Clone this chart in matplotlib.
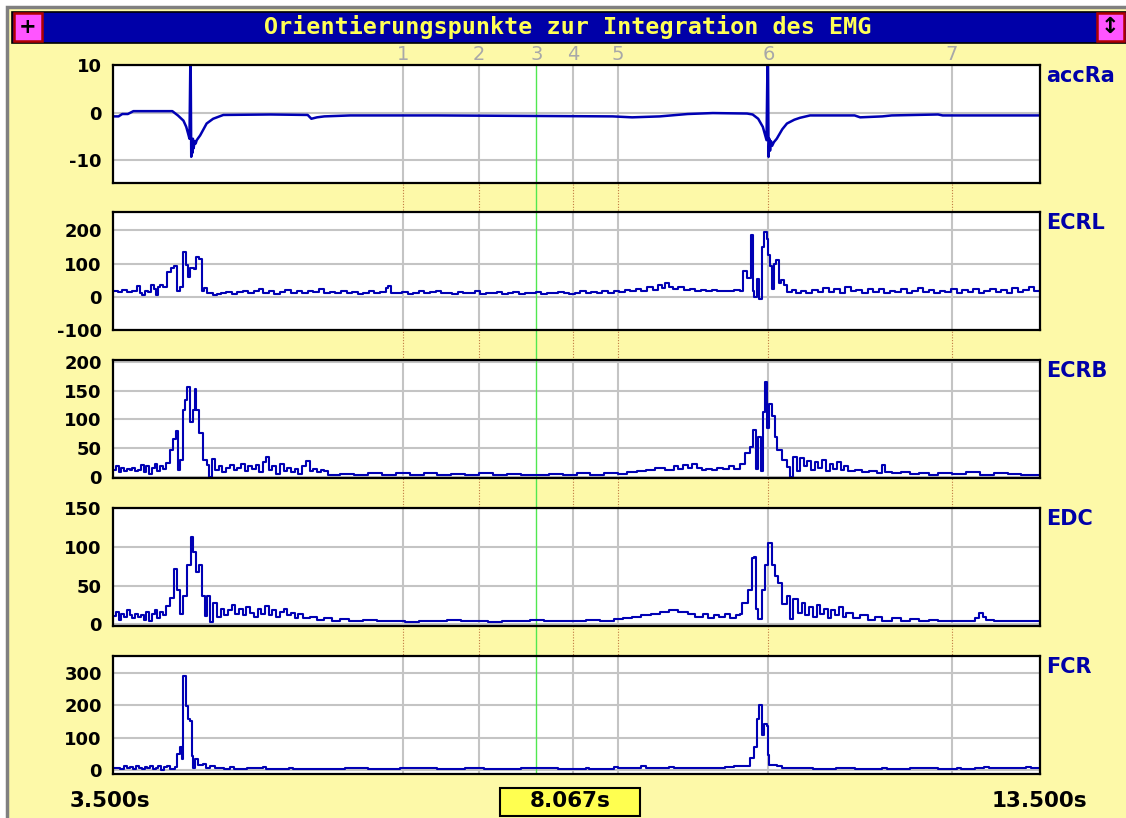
import matplotlib.pyplot as plt
from matplotlib.patches import Rectangle
from matplotlib.transforms import blended_transform_factory

# ---- data (time in s) ----
title = "Orientierungspunkte zur Integration des EMG"
marker_times = [6.63, 7.45, 8.067, 8.46, 8.95, 10.57, 12.55]
marker_labels = ["1", "2", "3", "4", "5", "6", "7"]
cursor_time = 8.067
t_start, t_end = 3.5, 13.5

acc_t = [3.50, 3.56, 3.60, 3.66, 3.72, 4.14, 4.20, 4.26, 4.29, 4.31, 4.325, 4.334,
         4.338, 4.344, 4.350, 4.356, 4.362, 4.370, 4.380, 4.392, 4.403, 4.44, 4.51,
         4.58, 4.69, 5.20, 5.60, 5.64, 5.70, 5.78, 6.06, 7.00, 8.89, 9.10, 9.40,
         9.70, 9.97, 10.34, 10.40, 10.46, 10.51, 10.55, 10.560, 10.566, 10.572,
         10.580, 10.588, 10.598, 10.610, 10.63, 10.66, 10.72, 10.77, 10.85, 10.91,
         11.02, 11.50, 11.56, 11.80, 11.90, 12.40, 12.45, 13.50]
acc_v = [-0.8, -0.8, -0.3, -0.3, 0.3, 0.3, -0.6, -1.7, -3.0, -4.4, -5.5, 10.2,
         10.2, -9.3, -6.0, -8.5, -5.5, -7.5, -6.0, -6.5, -5.8, -4.8, -2.3,
         -1.3, -0.5, -0.4, -0.5, -1.3, -1.0, -0.8, -0.6, -0.6, -0.8, -1.0, -0.8,
         -0.3, -0.1, -0.2, -0.4, -1.3, -3.0, -5.8, 10.2, 10.2, -9.3,
         -5.5, -8.0, -6.0, -7.0, -6.2, -5.5, -3.5, -2.3, -1.5, -1.1,
         -0.6, -0.6, -1.0, -0.8, -0.6, -0.4, -0.6, -0.6]

ecrl_t = [3.50, 3.55, 3.60, 3.65, 3.70, 3.76, 3.79, 3.81, 3.84, 3.88, 3.91, 3.94,
          3.96, 3.99, 4.01, 4.04, 4.08, 4.13, 4.16, 4.19, 4.22, 4.26, 4.29, 4.31,
          4.33, 4.37, 4.40, 4.43, 4.46, 4.48, 4.51, 4.55, 4.58, 4.62, 4.66,
          4.72, 4.78, 4.84, 4.90, 4.96, 5.02, 5.08, 5.12, 5.18, 5.24, 5.30, 5.36,
          5.42, 5.48, 5.54, 5.60, 5.66, 5.72, 5.78, 5.84, 5.90, 5.96, 6.02, 6.08,
          6.14, 6.20, 6.26, 6.32, 6.38, 6.44, 6.47, 6.50, 6.56, 6.62, 6.68, 6.74,
          6.80, 6.86, 6.92, 6.98, 7.04, 7.10, 7.16, 7.22, 7.28, 7.34, 7.40, 7.46,
          7.52, 7.58, 7.64, 7.70, 7.76, 7.82, 7.88, 7.94, 8.00, 8.06, 8.12, 8.18,
          8.24, 8.30, 8.36, 8.42, 8.48, 8.54, 8.60, 8.66, 8.72, 8.78, 8.84, 8.90,
          8.96, 9.02, 9.08, 9.14, 9.20, 9.26, 9.32, 9.38, 9.42, 9.46, 9.50, 9.54,
          9.60, 9.66, 9.72, 9.78, 9.84, 9.90, 9.96, 10.02, 10.08, 10.14, 10.20,
          10.26, 10.30, 10.34, 10.38, 10.40, 10.42, 10.45, 10.47, 10.50, 10.52,
          10.55, 10.57, 10.59, 10.61, 10.63, 10.65, 10.68, 10.71, 10.74, 10.77,
          10.82, 10.87, 10.92, 10.98, 11.04, 11.10, 11.16, 11.22, 11.28, 11.34,
          11.40, 11.46, 11.52, 11.58, 11.64, 11.70, 11.76, 11.82, 11.88, 11.94,
          12.00, 12.06, 12.12, 12.18, 12.24, 12.30, 12.36, 12.42, 12.48, 12.54,
          12.60, 12.66, 12.72, 12.78, 12.84, 12.90, 12.96, 13.02, 13.08, 13.14,
          13.20, 13.26, 13.32, 13.38, 13.44, 13.50]
ecrl_v = [18, 15, 20, 14, 18, 31, 12, 5, 18, 14, 35, 22,
          5, 30, 35, 28, 74, 88, 94, 18, 30, 134, 95, 58,
          88, 83, 121, 113, 18, 26, 12, 10, 5, 8, 12,
          15, 8, 14, 18, 10, 16, 22, 12, 16, 8, 14, 20,
          12, 16, 10, 18, 14, 22, 10, 15, 12, 18, 10, 14,
          8, 12, 16, 10, 14, 25, 32, 12, 10, 14, 8, 12,
          16, 10, 14, 18, 10, 12, 8, 15, 10, 12, 16, 8,
          12, 10, 15, 8, 12, 14, 8, 12, 10, 14, 8, 12,
          10, 15, 12, 8, 12, 16, 10, 14, 12, 18, 12, 16,
          14, 20, 16, 24, 18, 28, 20, 35, 25, 42, 28, 22,
          30, 20, 24, 18, 20, 16, 20, 18, 18, 16, 20,
          18, 79, 55, 185, 18, -2, 53, -6, 150, 195,
          175, 125, 94, 23, 100, 112, 40, 49, 36, 15,
          20, 10, 18, 12, 20, 15, 25, 14, 22, 12,
          28, 16, 20, 12, 24, 15, 22, 10, 18, 14,
          22, 12, 18, 26, 14, 20, 12, 18, 15, 22,
          12, 20, 14, 24, 12, 18, 22, 14, 20, 12,
          25, 15, 20, 28, 18, 20]

ecrb_t = [3.50, 3.53, 3.56, 3.59, 3.62, 3.65, 3.68, 3.71, 3.74, 3.77, 3.80, 3.83,
          3.86, 3.89, 3.92, 3.95, 3.98, 4.01, 4.04, 4.07, 4.11, 4.15, 4.18, 4.20,
          4.22, 4.25, 4.28, 4.30, 4.33, 4.36, 4.38, 4.40, 4.43, 4.47, 4.51, 4.54,
          4.57, 4.60, 4.64, 4.68, 4.72, 4.76, 4.80, 4.84, 4.88, 4.92, 4.96, 5.00,
          5.04, 5.08, 5.12, 5.15, 5.18, 5.22, 5.26, 5.30, 5.34, 5.38, 5.42, 5.46,
          5.50, 5.54, 5.58, 5.62, 5.66, 5.70, 5.74, 5.78, 5.82, 5.95, 6.10, 6.25,
          6.40, 6.55, 6.70, 6.85, 7.00, 7.15, 7.30, 7.45, 7.60, 7.75, 7.90, 8.05,
          8.20, 8.35, 8.50, 8.65, 8.80, 8.95, 9.05, 9.15, 9.25, 9.35, 9.45, 9.55,
          9.60, 9.65, 9.70, 9.75, 9.80, 9.85, 9.90, 9.96, 10.02, 10.08, 10.14,
          10.20, 10.26, 10.32, 10.37, 10.40, 10.44, 10.46, 10.49, 10.51, 10.53,
          10.555, 10.58, 10.61, 10.64, 10.66, 10.72, 10.77, 10.80, 10.84, 10.88,
          10.91, 10.95, 10.99, 11.03, 11.07, 11.11, 11.15, 11.19, 11.23, 11.27,
          11.31, 11.35, 11.39, 11.43, 11.50, 11.58, 11.66, 11.74, 11.80, 11.83,
          11.90, 12.00, 12.10, 12.20, 12.30, 12.40, 12.55, 12.70, 12.85, 13.00,
          13.15, 13.30, 13.50]
ecrb_v = [12, 18, 8, 15, 10, 14, 12, 16, 10, 12, 20, 8,
          18, 5, 16, 22, 10, 18, 14, 24, 46, 66, 80, 12,
          29, 116, 133, 156, 95, 116, 152, 116, 76, 29, 20, 0,
          31, 12, 18, 8, 15, 20, 12, 16, 22, 10, 18, 14,
          20, 8, 25, 34, 12, 18, 5, 22, 10, 16, 8, 14,
          5, 18, 28, 10, 14, 8, 12, 10, 3, 5, 3, 6,
          4, 7, 4, 6, 3, 5, 4, 6, 3, 5, 4, 3,
          5, 4, 6, 4, 7, 5, 8, 10, 12, 15, 12, 18,
          14, 20, 15, 22, 16, 12, 14, 12, 16, 14, 18,
          14, 23, 41, 51, 81, 14, 69, 11, 113, 164,
          85, 127, 105, 70, 46, 29, 17, 0, 34, 11,
          32, 18, 28, 12, 25, 15, 30, 10, 22, 14,
          26, 12, 18, 10, 12, 8, 10, 6, 20, 8,
          6, 8, 5, 7, 4, 6, 5, 8, 4, 6,
          5, 4, 4]

edc_t = [3.50, 3.53, 3.56, 3.59, 3.62, 3.65, 3.68, 3.71, 3.74, 3.77, 3.80, 3.83,
         3.86, 3.89, 3.92, 3.95, 3.98, 4.01, 4.04, 4.07, 4.11, 4.16, 4.19, 4.22,
         4.25, 4.30, 4.34, 4.36, 4.40, 4.43, 4.46, 4.49, 4.51, 4.55, 4.58, 4.62,
         4.66, 4.70, 4.74, 4.78, 4.82, 4.86, 4.90, 4.94, 4.98, 5.02, 5.06, 5.10,
         5.14, 5.18, 5.22, 5.26, 5.30, 5.34, 5.38, 5.42, 5.46, 5.50, 5.55, 5.62,
         5.70, 5.78, 5.86, 5.95, 6.05, 6.20, 6.35, 6.50, 6.65, 6.80, 6.95, 7.10,
         7.25, 7.40, 7.55, 7.70, 7.85, 8.00, 8.15, 8.30, 8.45, 8.60, 8.75, 8.90,
         9.00, 9.10, 9.20, 9.30, 9.40, 9.50, 9.60, 9.70, 9.78, 9.86, 9.92, 9.98,
         10.04, 10.10, 10.16, 10.22, 10.26, 10.29, 10.35, 10.39, 10.42, 10.44,
         10.46, 10.50, 10.53, 10.566, 10.61, 10.64, 10.67, 10.72, 10.77, 10.80,
         10.84, 10.89, 10.93, 10.97, 11.01, 11.05, 11.09, 11.13, 11.17, 11.21,
         11.25, 11.29, 11.33, 11.37, 11.41, 11.48, 11.56, 11.64, 11.72, 11.80,
         11.90, 12.00, 12.10, 12.20, 12.30, 12.40, 12.55, 12.70, 12.80, 12.84,
         12.88, 12.92, 13.00, 13.15, 13.30, 13.50]
edc_v = [11, 16, 6, 14, 10, 18, 12, 8, 14, 10, 12, 6,
         16, 4, 14, 18, 8, 16, 12, 24, 34, 71, 45, 13,
         37, 77, 113, 93, 68, 77, 37, 11, 37, 3, 28, 10,
         20, 12, 18, 25, 14, 20, 12, 22, 15, 10, 20, 14,
         24, 12, 18, 10, 16, 20, 12, 15, 8, 14, 8, 10,
         6, 8, 5, 7, 4, 6, 4, 5, 3, 5, 4, 6,
         4, 5, 3, 5, 4, 6, 4, 5, 4, 6, 5, 7,
         8, 10, 12, 14, 16, 18, 16, 14, 10, 14, 8, 12,
         10, 14, 8, 12, 14, 28, 45, 85, 87, 20,
         7, 45, 77, 105, 77, 62, 54, 26, 37, 7,
         33, 15, 28, 12, 22, 10, 25, 14, 20, 8,
         18, 12, 22, 10, 15, 8, 12, 6, 10, 5,
         8, 5, 7, 4, 6, 4, 5, 4, 8, 15,
         10, 6, 4, 5, 4, 5]

fcr_t = [3.50, 3.55, 3.58, 3.62, 3.65, 3.68, 3.72, 3.75, 3.78, 3.81, 3.84, 3.87,
         3.90, 3.93, 3.96, 3.99, 4.02, 4.05, 4.08, 4.12, 4.17, 4.19, 4.22, 4.24,
         4.25, 4.29, 4.31, 4.33, 4.35, 4.36, 4.38, 4.42, 4.47, 4.50, 4.55, 4.60,
         4.70, 4.76, 4.80, 4.95, 5.12, 5.15, 5.40, 5.44, 6.00, 6.20, 6.25, 6.60,
         7.00, 7.30, 7.50, 7.90, 8.30, 8.60, 8.64, 8.90, 8.95, 9.20, 9.25, 9.50,
         9.55, 9.80, 9.85, 10.10, 10.20, 10.30, 10.37, 10.41, 10.45, 10.47, 10.50,
         10.52, 10.55, 10.566, 10.577, 10.66, 10.72, 10.80, 11.00, 11.05, 11.30,
         11.50, 11.80, 11.85, 12.10, 12.40, 12.60, 12.65, 12.80, 12.90, 12.95,
         13.10, 13.20, 13.35, 13.40, 13.50]
fcr_v = [5, 8, 3, 12, 6, 10, 4, 14, 8, 2, 10, 6,
         12, 4, 8, 12, 0, 10, 12, 4, 10, 50, 70, 35,
         289, 197, 158, 150, 43, 5, 35, 15, 20, 8, 12, 6,
         4, 10, 4, 5, 10, 4, 8, 4, 5, 8, 4, 5,
         4, 6, 4, 5, 4, 8, 4, 10, 6, 12, 6, 10,
         5, 8, 5, 10, 12, 12, 38, 70, 157, 201, 108,
         142, 137, 48, 17, 12, 5, 5, 8, 4, 5,
         3, 8, 4, 6, 4, 8, 4, 6, 10, 5,
         8, 5, 9, 5, 6]

channels = ["accRa", "ECRL", "ECRB", "EDC", "FCR"]
series_t = [acc_t, ecrl_t, ecrb_t, edc_t, fcr_t]
series_v = [acc_v, ecrl_v, ecrb_v, edc_v, fcr_v]
y_limits = [(-14.8, 10), (-100, 255), (-2, 203), (-2, 150), (-12, 352)]
y_ticks = [[10, 0, -10], [200, 100, 0, -100], [200, 150, 100, 50, 0],
           [150, 100, 50, 0], [300, 200, 100, 0]]

# ---- layout helpers (pixel coordinates, origin top-left) ----
W, H = 1126, 818
BLUE = "#0000A8"
TRACE = "#0000B4"
GRID = "#C4C4C4"
YELLOW = "#FDF9A8"

fig = plt.figure(figsize=(W / 100, H / 100), dpi=100)
fig.patch.set_facecolor("white")


def box(x0, y0, x1, y1):
    return [x0 / W, 1 - y1 / H, (x1 - x0) / W, (y1 - y0) / H]


def rect(x0, y0, x1, y1, z=-10, **kw):
    r = Rectangle((x0 / W, 1 - y1 / H), (x1 - x0) / W, (y1 - y0) / H,
                  transform=fig.transFigure, zorder=z, **kw)
    fig.add_artist(r)
    return r


def ftext(x, y, s, **kw):
    return fig.text(x / W, 1 - y / H, s, **kw)


# window frame and background
rect(7, 7, 1130, 822, facecolor=YELLOW, edgecolor="#808080", lw=2.5)
rect(12, 12, 1130, 43, facecolor=BLUE, edgecolor="black", lw=1.2)
rect(14, 13, 42, 41, z=-9, facecolor="#FF55FF", edgecolor="#B00000", lw=1.8)
rect(1097, 13, 1124, 41, z=-9, facecolor="#FF55FF", edgecolor="#B00000", lw=1.8)
ftext(28, 27, "+", ha="center", va="center", fontsize=15, weight="bold", color="black")
ftext(1110.5, 27, "\u2195", ha="center", va="center", fontsize=16, weight="bold", color="black")
ftext(568, 27, title, ha="center", va="center", fontsize=16.8, weight="bold",
      family="DejaVu Sans Mono", color="#FFFF55")

PX_L, PX_R = 113, 1040
tops = [65, 212, 360, 508, 656]
PANEL_H = 118

# background axes for the marker lines running through the gaps
bg = fig.add_axes(box(PX_L, tops[0], PX_R, tops[-1] + PANEL_H))
bg.set_xlim(t_start, t_end)
bg.set_ylim(0, 1)
bg.axis("off")
for mt in marker_times:
    if mt == cursor_time:
        continue
    bg.axvline(mt, color="#C07840", lw=0.8, ls=(0, (1, 1.5)))
bg.axvline(cursor_time, color="#50E850", lw=1.0)

mark_tr = blended_transform_factory(bg.transData, fig.transFigure)
for mt, lab in zip(marker_times, marker_labels):
    bg.text(mt, 1 - 55 / H, lab, transform=mark_tr, ha="center", va="center",
            fontsize=14, color="#A8A8A8")

for i, name in enumerate(channels):
    top = tops[i]
    ax = fig.add_axes(box(PX_L, top, PX_R, top + PANEL_H))
    ax.set_facecolor("white")
    ax.set_xlim(t_start, t_end)
    ax.set_ylim(*y_limits[i])
    ax.set_xticks([])
    ax.set_yticks(y_ticks[i])
    ax.set_yticklabels([str(v) for v in y_ticks[i]], fontsize=13, weight="bold")
    ax.tick_params(axis="y", length=0, pad=8)
    ax.yaxis.grid(True, color=GRID, lw=1.5)
    ax.set_axisbelow(True)
    for mt in marker_times:
        if mt != cursor_time:
            ax.axvline(mt, color=GRID, lw=1.5, zorder=1)
    ax.axvline(cursor_time, color="#50E850", lw=1.0, zorder=1.5)
    for sp in ax.spines.values():
        sp.set_color("black")
        sp.set_linewidth(1.6)
        sp.set_zorder(5)
    if i == 0:
        ax.plot(series_t[i], series_v[i], color=TRACE, lw=1.8, zorder=3)
    else:
        ax.plot(series_t[i], series_v[i], color=TRACE, lw=1.5, zorder=3,
                drawstyle="steps-post")
    ftext(1046, top + 1, name, ha="left", va="top", fontsize=15, weight="bold",
          color=BLUE)

# time labels along the bottom
ftext(70, 801, "%.3fs" % t_start, ha="left", va="center", fontsize=15.5, weight="bold")
ftext(1087, 801, "%.3fs" % t_end, ha="right", va="center", fontsize=15.5, weight="bold")
rect(500, 788, 640, 816, z=-9, facecolor="#FFFF50", edgecolor="black", lw=1.5)
ftext(570, 801, "%.3fs" % cursor_time, ha="center", va="center", fontsize=15.5,
      weight="bold")

fig.savefig("out.png", dpi=100)
